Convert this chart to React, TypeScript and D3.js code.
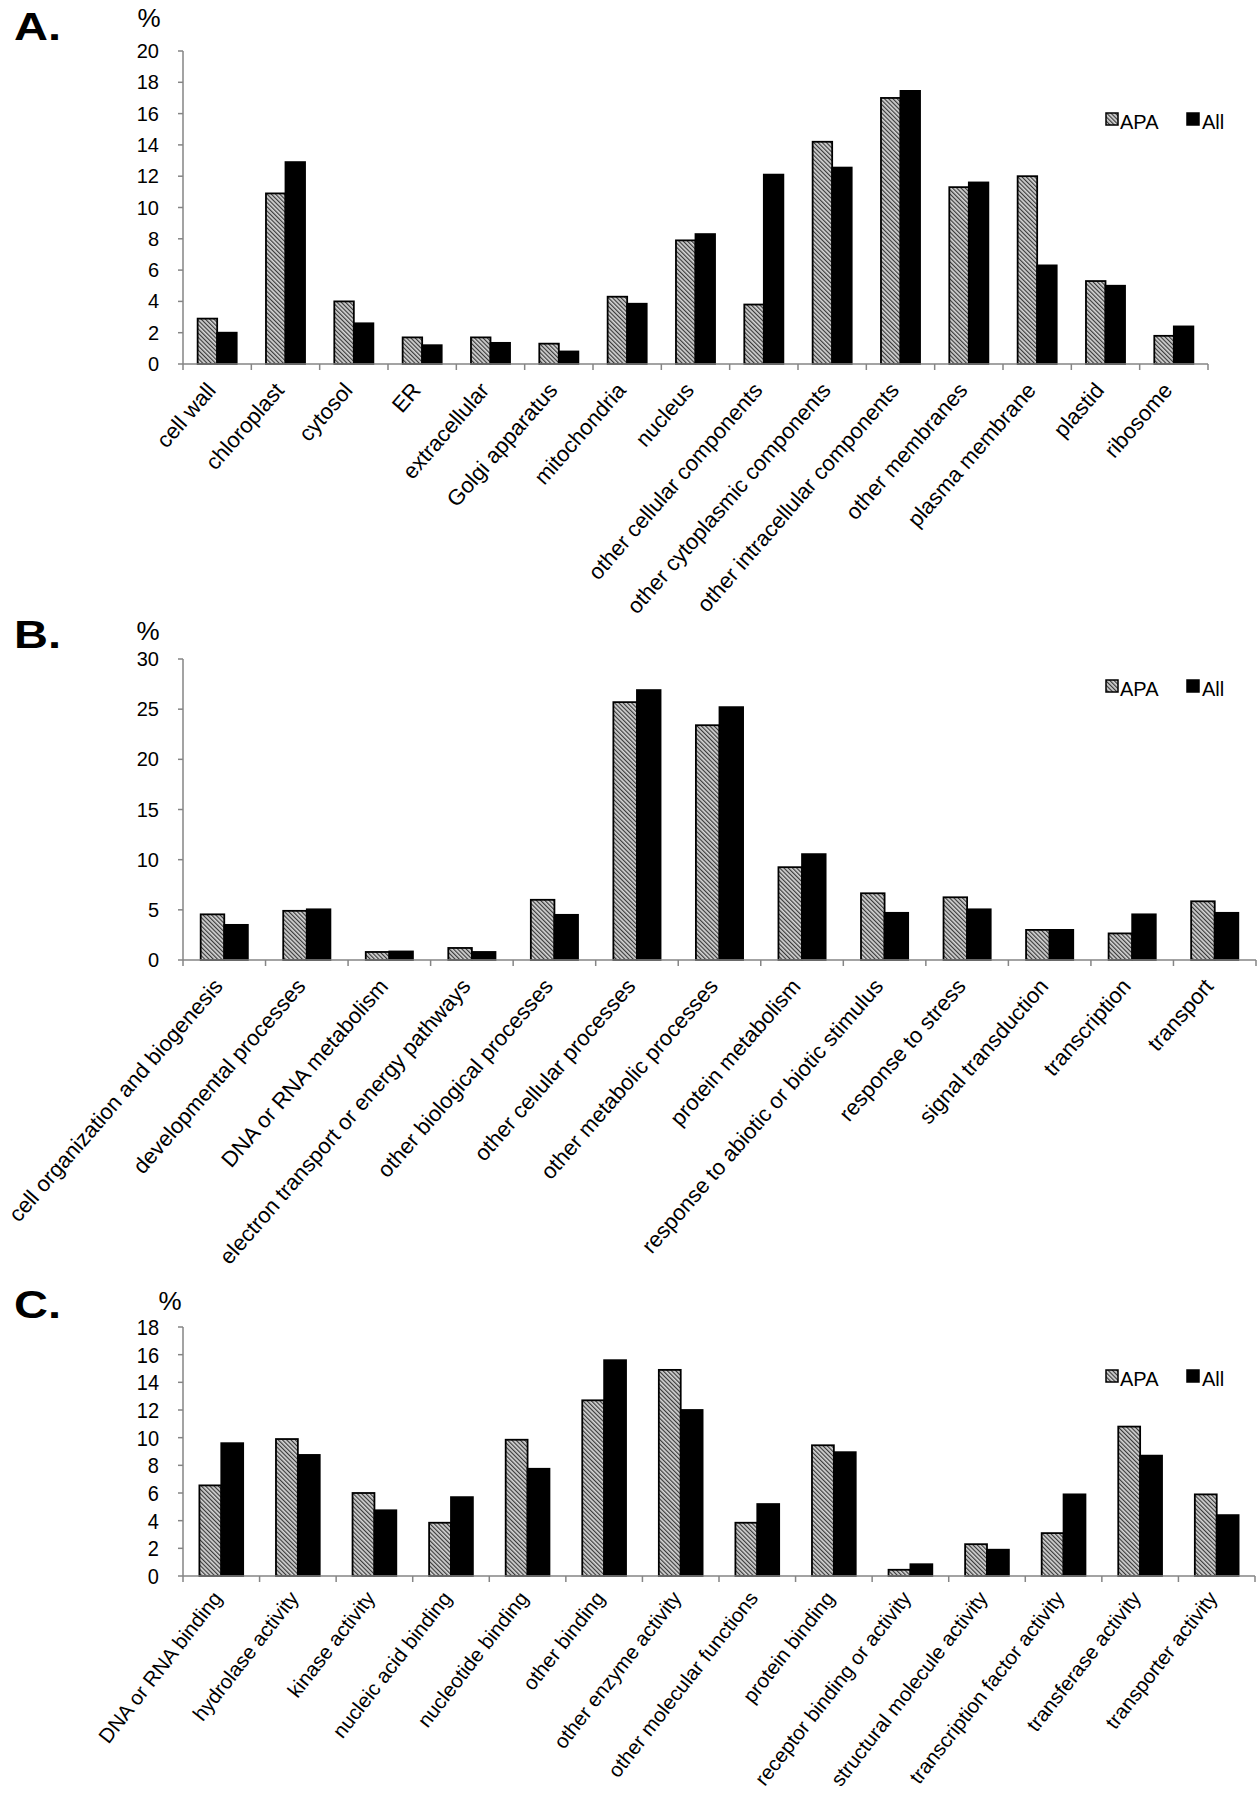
import React from 'react';
import * as d3 from 'd3';

const series = ['APA', 'All'];

const catsA = ['cell wall', 'chloroplast', 'cytosol', 'ER', 'extracellular', 'Golgi apparatus', 'mitochondria', 'nucleus', 'other cellular components', 'other cytoplasmic components', 'other intracellular components', 'other membranes', 'plasma membrane', 'plastid', 'ribosome'];
const apaA = [2.9, 10.9, 4.0, 1.7, 1.7, 1.3, 4.3, 7.9, 3.8, 14.2, 17.0, 11.3, 12.0, 5.3, 1.8];
const allA = [2.0, 12.9, 2.6, 1.2, 1.35, 0.8, 3.85, 8.3, 12.1, 12.55, 17.45, 11.6, 6.3, 5.0, 2.4];
const ticksA = [0, 2, 4, 6, 8, 10, 12, 14, 16, 18, 20];

const catsB = ['cell organization and biogenesis', 'developmental processes', 'DNA or RNA metabolism', 'electron transport or energy pathways', 'other biological processes', 'other cellular processes', 'other metabolic processes', 'protein metabolism', 'response to abiotic or biotic stimulus', 'response to stress', 'signal transduction', 'transcription', 'transport'];
const apaB = [4.55, 4.9, 0.8, 1.2, 6.0, 25.7, 23.4, 9.25, 6.65, 6.25, 3.0, 2.65, 5.85];
const allB = [3.5, 5.05, 0.85, 0.8, 4.5, 26.9, 25.2, 10.55, 4.7, 5.05, 3.0, 4.55, 4.7];
const ticksB = [0, 5, 10, 15, 20, 25, 30];

const catsC = ['DNA or RNA binding', 'hydrolase activity', 'kinase activity', 'nucleic acid binding', 'nucleotide binding', 'other binding', 'other enzyme activity', 'other molecular functions', 'protein binding', 'receptor binding or activity', 'structural molecule activity', 'transcription factor activity', 'transferase activity', 'transporter activity'];
const apaC = [6.55, 9.9, 6.0, 3.85, 9.85, 12.7, 14.9, 3.85, 9.45, 0.45, 2.3, 3.1, 10.8, 5.9];
const allC = [9.6, 8.75, 4.75, 5.7, 7.75, 15.6, 12.0, 5.2, 8.95, 0.85, 1.9, 5.9, 8.7, 4.4];
const ticksC = [0, 2, 4, 6, 8, 10, 12, 14, 16, 18];

const FONT = '"Liberation Sans", Arial, Helvetica, sans-serif';
const AXIS = '#858585';

type PanelProps = {
  letter: string;
  cats: string[];
  apa: number[];
  all: number[];
  ticks: number[];
  yMax: number;
  yTop: number;
  yZero: number;
  x0: number;
  x1: number;
  letterY: number;
  pctX: number;
  pctY: number;
  legendY: number;
  labelSize: number;
  angle: number;
  tickStretch: number;
  labelDx: number;
  labelDy: number;
};

function Panel(p: PanelProps) {
  const x = d3.scaleBand<string>().domain(p.cats).range([p.x0, p.x1]).padding(0);
  const xs = d3.scaleBand<string>().domain(series).range([0, x.bandwidth()]).paddingInner(0).paddingOuter(0.75);
  const y = d3.scaleLinear().domain([0, p.yMax]).range([p.yZero, p.yTop]);
  const bars: { key: string; s: string; v: number; c: string }[] = [];
  p.cats.forEach((c, i) => {
    bars.push({ key: c + '-apa', s: 'APA', v: p.apa[i], c });
    bars.push({ key: c + '-all', s: 'All', v: p.all[i], c });
  });
  const boundaries = d3.range(p.cats.length + 1).map((i) => p.x0 + i * x.step());
  return (
    <g fontFamily={FONT}>
      <text x={14} y={p.letterY} fontSize={38} fontWeight="bold" textLength={47} lengthAdjust="spacingAndGlyphs">{p.letter}</text>
      <text x={p.pctX} y={p.pctY} fontSize={26} textAnchor="middle">%</text>
      {bars.map((b) => (
        <rect
          key={b.key}
          x={(x(b.c) as number) + (xs(b.s) as number)}
          y={y(b.v)}
          width={xs.bandwidth()}
          height={p.yZero - y(b.v)}
          fill={b.s === 'APA' ? 'url(#hatch)' : '#000'}
          stroke="#000"
          strokeWidth={1.8}
        />
      ))}
      <line x1={p.x0} x2={p.x0} y1={p.yTop} y2={p.yZero} stroke={AXIS} strokeWidth={1.5} />
      <line x1={p.x0} x2={p.x1} y1={p.yZero} y2={p.yZero} stroke={AXIS} strokeWidth={1.5} />
      {p.ticks.map((t) => (
        <g key={'t' + t}>
          <line x1={p.x0 - 5} x2={p.x0} y1={y(t)} y2={y(t)} stroke={AXIS} strokeWidth={1.5} />
          <text transform={`translate(${p.x0 - 24},${y(t) + 7 * p.tickStretch}) scale(1,${p.tickStretch})`} fontSize={20} textAnchor="end">{t}</text>
        </g>
      ))}
      {boundaries.map((bx, i) => (
        <line key={'b' + i} x1={bx} x2={bx} y1={p.yZero} y2={p.yZero + 6} stroke={AXIS} strokeWidth={1.5} />
      ))}
      {p.cats.map((c) => {
        const cx = (x(c) as number) + x.bandwidth() / 2;
        return (
          <text
            key={'l' + c}
            transform={`translate(${cx + p.labelDx},${p.yZero + p.labelDy}) rotate(${p.angle})`}
            fontSize={p.labelSize}
            textAnchor="end"
            dy="0.35em"
          >
            {c}
          </text>
        );
      })}
      <g>
        <rect x={1106} y={p.legendY - 13} width={12} height={12} fill="url(#hatch)" stroke="#000" strokeWidth={1.5} />
        <text x={1120} y={p.legendY + 3} fontSize={20}>APA</text>
        <rect x={1187} y={p.legendY - 13} width={12} height={12} fill="#000" stroke="#000" strokeWidth={1.5} />
        <text x={1202} y={p.legendY + 3} fontSize={20}>All</text>
      </g>
    </g>
  );
}

export default function App() {
  return (
    <svg width={1258} height={1800} style={{ position: 'absolute', left: 0, top: 0, background: '#fff' }}>
      <defs>
        <pattern id="hatch" patternUnits="userSpaceOnUse" width={3} height={3} patternTransform="rotate(-45)">
          <rect width={3} height={3} fill="#d4d4d4" />
          <line x1={0.6} y1={0} x2={0.6} y2={3} stroke="#3a3a3a" strokeWidth={1.2} />
        </pattern>
      </defs>
      <rect width={1258} height={1800} fill="#fff" />
      <Panel letter="A." cats={catsA} apa={apaA} all={allA} ticks={ticksA} yMax={20} yTop={51} yZero={364} x0={183} x1={1208}
        letterY={40} pctX={149} pctY={27} legendY={126} labelSize={22} angle={-49} tickStretch={1} labelDx={-6} labelDy={22} />
      <Panel letter="B." cats={catsB} apa={apaB} all={allB} ticks={ticksB} yMax={30} yTop={659} yZero={960} x0={183} x1={1256}
        letterY={648} pctX={148} pctY={640} legendY={693} labelSize={22} angle={-49} tickStretch={1} labelDx={-6} labelDy={22} />
      <Panel letter="C." cats={catsC} apa={apaC} all={allC} ticks={ticksC} yMax={18} yTop={1327} yZero={1576} x0={183} x1={1255}
        letterY={1318} pctX={170} pctY={1310} legendY={1383} labelSize={20.5} angle={-52} tickStretch={1.12} labelDx={-4} labelDy={18} />
    </svg>
  );
}
